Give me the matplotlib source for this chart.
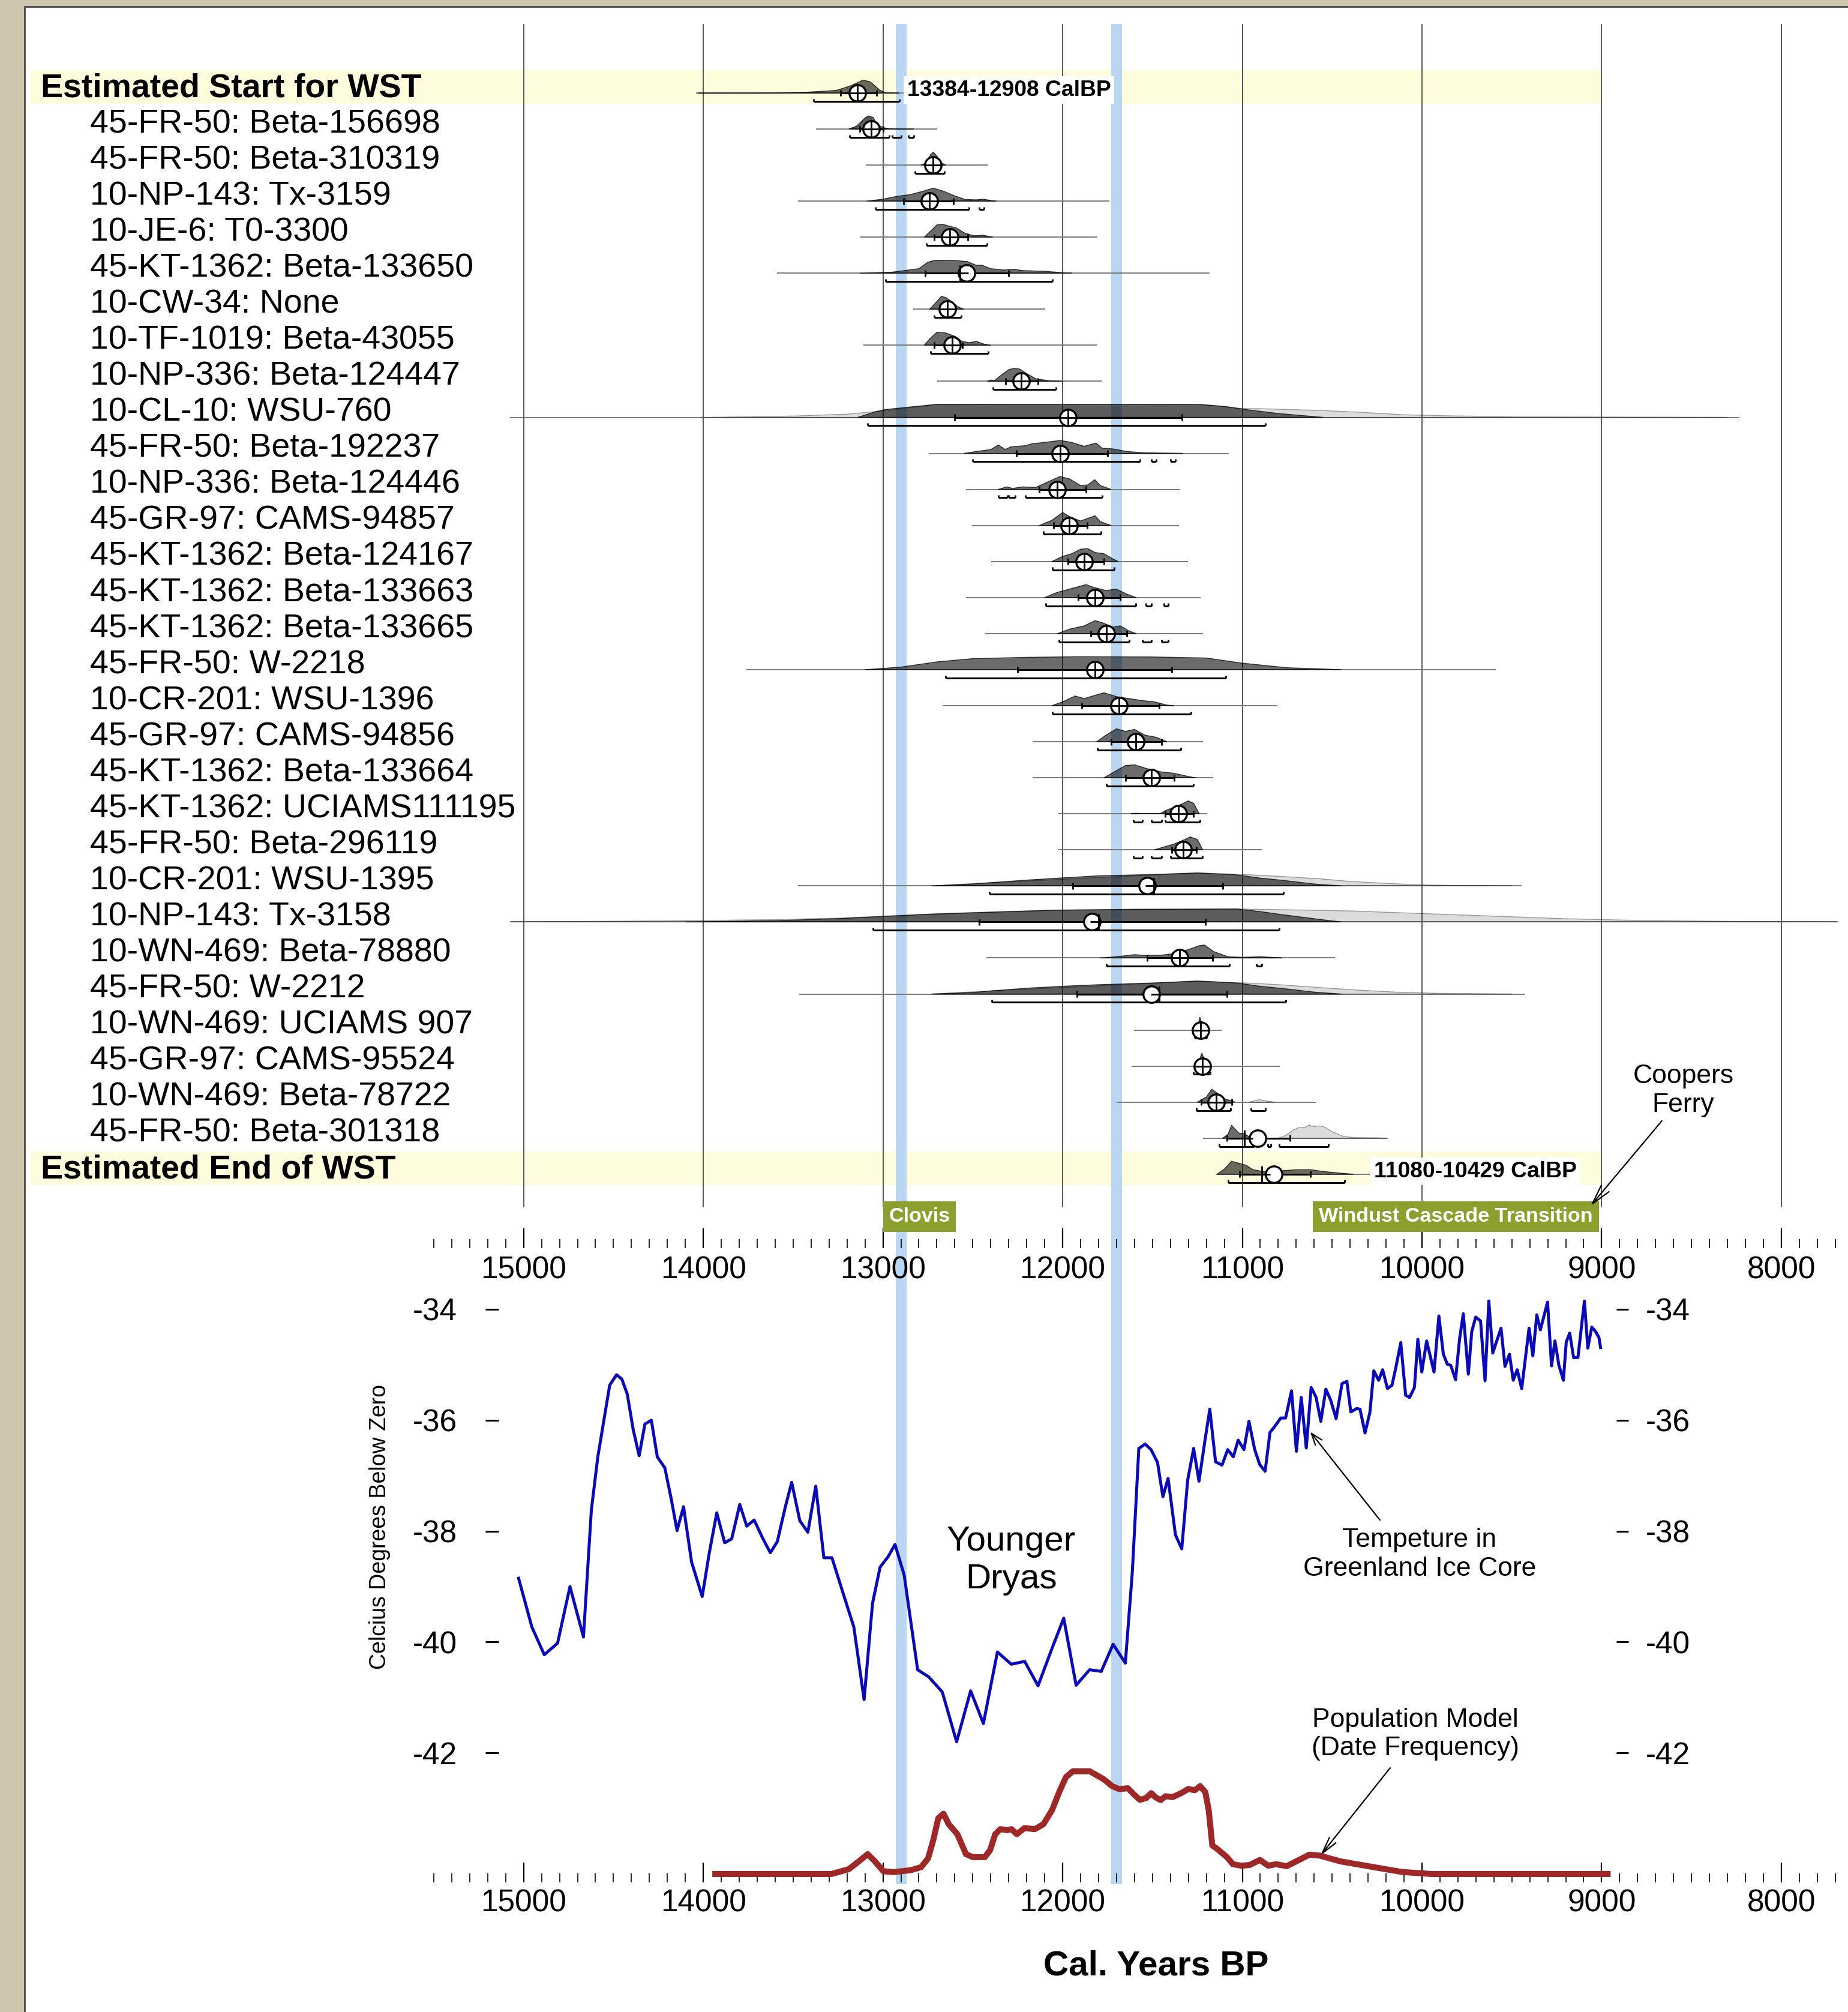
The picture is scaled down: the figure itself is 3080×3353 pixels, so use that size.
import matplotlib
matplotlib.use("Agg")
import matplotlib.pyplot as plt
from matplotlib.patches import Rectangle

plt.rcParams["font.family"] = ["Liberation Sans", "DejaVu Sans"]
plt.rcParams["axes.unicode_minus"] = False

# ---------------- data: radiocarbon dates (Cal BP) ----------------
labels = [
    "Estimated Start for WST",
    "45-FR-50: Beta-156698", "45-FR-50: Beta-310319", "10-NP-143: Tx-3159",
    "10-JE-6: T0-3300", "45-KT-1362: Beta-133650", "10-CW-34: None",
    "10-TF-1019: Beta-43055", "10-NP-336: Beta-124447", "10-CL-10: WSU-760",
    "45-FR-50: Beta-192237", "10-NP-336: Beta-124446", "45-GR-97: CAMS-94857",
    "45-KT-1362: Beta-124167", "45-KT-1362: Beta-133663", "45-KT-1362: Beta-133665",
    "45-FR-50: W-2218", "10-CR-201: WSU-1396", "45-GR-97: CAMS-94856",
    "45-KT-1362: Beta-133664", "45-KT-1362: UCIAMS111195", "45-FR-50: Beta-296119",
    "10-CR-201: WSU-1395", "10-NP-143: Tx-3158", "10-WN-469: Beta-78880",
    "45-FR-50: W-2212", "10-WN-469: UCIAMS 907", "45-GR-97: CAMS-95524",
    "10-WN-469: Beta-78722", "45-FR-50: Beta-301318",
    "Estimated End of WST",
]
bold_rows = [0, 30]

line_from = [14036, 13371, 13093, 13471, 13121, 13586, 12829, 13107, 12695, 15071,
             12743, 12536, 12500, 12393, 12536, 12429, 13757, 12664, 12164, 12164,
             12021, 12021, 13471, 15071, 12421, 13464, 11600, 11614, 11696, 11214, 11143]
line_to = [12890, 12700, 12421, 11743, 11814, 11186, 12100, 11814, 11788, 8236,
           11079, 11350, 11357, 11307, 11236, 11221, 9593, 10807, 11221, 11164,
           11200, 10893, 9450, 7686, 10486, 9429, 11114, 10793, 10593, 10193, 10293]

mean_year = [13141, 13066, 12721, 12743, 12629, 12536, 12643, 12614, 12231, 11971,
             12014, 12029, 11965, 11879, 11821, 11757, 11821, 11686, 11593, 11507,
             11357, 11329, 11529, 11836, 11350, 11507, 11232, 11221, 11145, 10914, 10824]
median_year = [13141, 13066, 12721, 12743, 12629, 12571, 12643, 12614, 12231, 11971,
               12014, 12029, 11965, 11879, 11821, 11757, 11821, 11686, 11593, 11507,
               11357, 11329, 11493, 11800, 11350, 11464, 11232, 11221, 11145, 10990, 10893]

range68 = [(13236, 13036), (13129, 13000), (12750, 12695), (12886, 12607), (12714, 12529),
           (12764, 12300), None, (12714, 12557), (12317, 12136), (12600, 11336),
           (12257, 11750), (12129, 11871), (12050, 11864), (11971, 11771), (11914, 11679),
           (11843, 11643), (12250, 11393), (11893, 11464), (11729, 11450), (11650, 11379),
           (11429, 11271), (11393, 11257), (11943, 11107), (12464, 11207), (11529, 11164),
           (11921, 11086), None, None, (11229, 11057), (11086, 10736), (11014, 10621)]

range95 = [
    [(13386, 12908)],
    [(13186, 12964), (12950, 12900), (12857, 12829)],
    [(12821, 12657)],
    [(13043, 12521), (12464, 12436)],
    [(12757, 12421)],
    [(12986, 12057)],
    [(12714, 12564)],
    [(12736, 12414)],
    [(12388, 12036)],
    [(13086, 10871)],
    [(12500, 11571), (11507, 11479), (11400, 11371)],
    [(12357, 12307), (12300, 12264), (12207, 11779)],
    [(12107, 11786)],
    [(12057, 11714)],
    [(12093, 11593), (11536, 11507), (11436, 11414)],
    [(12021, 11629), (11557, 11507), (11450, 11414)],
    [(12650, 11093)],
    [(12057, 11286)],
    [(11807, 11343)],
    [(11757, 11271)],
    [(11607, 11557), (11507, 11450), (11429, 11236)],
    [(11607, 11557), (11507, 11450), (11400, 11221)],
    [(12407, 10771)],
    [(13057, 10793)],
    [(11757, 11071), (10921, 10893)],
    [(12393, 10757)],
    [(11264, 11200)],
    [(11271, 11179)],
    [(11257, 11064), (10950, 10871)],
    [(11129, 10936), (10857, 10843), (10793, 10521)],
    [(11080, 10429)],
]

# posterior density outlines (year, relative height)
posterior = [
    [(14030, 0), (13600, 0.02), (13420, 0.06), (13260, 0.2), (13180, 0.55), (13110, 1.0), (13070, 0.85), (13020, 0.25), (12990, 0.03), (12910, 0)],
    [(13190, 0), (13140, 0.25), (13100, 0.85), (13080, 1.0), (13055, 0.9), (13030, 0.3), (12990, 0.08), (12960, 0.03), (12900, 0.02), (12830, 0)],
    [(12790, 0), (12760, 0.15), (12735, 0.8), (12720, 1.0), (12700, 0.7), (12680, 0.2), (12650, 0)],
    [(13090, 0), (13000, 0.15), (12930, 0.35), (12850, 0.5), (12780, 0.75), (12720, 1.0), (12660, 0.75), (12600, 0.4), (12540, 0.12), (12480, 0.1), (12440, 0.15), (12400, 0.05), (12370, 0)],
    [(12770, 0), (12740, 0.4), (12700, 0.95), (12670, 1.0), (12630, 0.85), (12590, 0.7), (12550, 0.35), (12500, 0.12), (12470, 0.12), (12445, 0.16), (12410, 0.05), (12390, 0)],
    [(13130, 0), (12950, 0.08), (12800, 0.35), (12750, 0.85), (12710, 1.0), (12600, 0.98), (12530, 0.9), (12480, 0.6), (12450, 0.62), (12400, 0.35), (12330, 0.25), (12270, 0.3), (12220, 0.2), (12100, 0.15), (12000, 0.04), (11950, 0)],
    [(12740, 0), (12700, 0.6), (12675, 1.0), (12650, 0.9), (12620, 0.6), (12585, 0.2), (12550, 0)],
    [(12770, 0), (12740, 0.5), (12700, 1.0), (12650, 0.95), (12600, 0.7), (12560, 0.3), (12520, 0.2), (12480, 0.3), (12440, 0.1), (12400, 0)],
    [(12420, 0), (12400, 0.1), (12380, 0.05), (12340, 0.5), (12300, 0.9), (12270, 1.0), (12240, 0.95), (12200, 0.6), (12150, 0.2), (12080, 0.05), (12000, 0)],
    [(13140, 0), (13050, 0.4), (12990, 0.6), (12850, 0.8), (12700, 1.0), (11230, 0.98), (11100, 0.85), (10980, 0.6), (10800, 0.3), (10550, 0)],
    [(12550, 0), (12480, 0.15), (12400, 0.3), (12357, 0.65), (12320, 0.3), (12290, 0.5), (12250, 0.55), (12207, 0.6), (12170, 0.75), (12100, 0.85), (12014, 1.0), (11950, 0.85), (11880, 0.55), (11814, 0.8), (11780, 0.4), (11720, 0.35), (11643, 0.15), (11550, 0.05), (11330, 0)],
    [(12360, 0), (12310, 0.2), (12280, 0.08), (12220, 0.2), (12150, 0.15), (12080, 0.6), (12014, 1.0), (11960, 0.8), (11900, 0.3), (11860, 0.35), (11821, 0.75), (11790, 0.3), (11730, 0)],
    [(12130, 0), (12060, 0.4), (12000, 1.0), (11950, 0.6), (11900, 0.35), (11820, 0.75), (11790, 0.3), (11730, 0)],
    [(12060, 0), (12000, 0.4), (11950, 0.6), (11900, 0.95), (11860, 1.0), (11820, 0.7), (11770, 0.6), (11720, 0.2), (11690, 0)],
    [(12100, 0), (12030, 0.4), (11950, 0.7), (11870, 1.0), (11830, 0.8), (11760, 0.55), (11700, 0.65), (11640, 0.25), (11590, 0)],
    [(12030, 0), (11960, 0.35), (11880, 0.6), (11820, 1.0), (11780, 0.85), (11720, 0.5), (11680, 0.6), (11630, 0.2), (11590, 0)],
    [(13100, 0), (12900, 0.2), (12700, 0.6), (12500, 0.85), (12200, 0.95), (11900, 1.0), (11500, 0.98), (11200, 0.9), (11000, 0.5), (10750, 0.15), (10450, 0)],
    [(12060, 0), (12000, 0.3), (11930, 0.75), (11880, 0.55), (11820, 0.8), (11770, 1.0), (11700, 0.7), (11630, 0.55), (11560, 0.4), (11490, 0.3), (11420, 0.05), (11380, 0)],
    [(11810, 0), (11760, 0.5), (11700, 1.0), (11650, 0.8), (11600, 0.95), (11540, 0.5), (11480, 0.35), (11420, 0)],
    [(11770, 0), (11720, 0.4), (11650, 0.95), (11600, 1.0), (11530, 0.7), (11450, 0.45), (11380, 0.35), (11300, 0.1), (11260, 0)],
    [(11620, 0), (11590, 0.05), (11560, 0), (11460, 0), (11420, 0.3), (11380, 0.5), (11330, 0.8), (11300, 1.0), (11270, 0.8), (11240, 0)],
    [(11490, 0), (11430, 0.25), (11380, 0.45), (11320, 0.8), (11290, 1.0), (11250, 0.8), (11220, 0)],
    [(12730, 0), (12500, 0.15), (12390, 0.26), (12200, 0.45), (12000, 0.62), (11800, 0.78), (11500, 0.88), (11250, 1.0), (11030, 0.85), (10900, 0.6), (10770, 0.42), (10600, 0.15), (10450, 0)],
    [(14100, 0), (13600, 0.1), (13240, 0.26), (12730, 0.6), (12400, 0.75), (12050, 0.9), (11600, 0.97), (11030, 1.0), (10900, 0.8), (10770, 0.55), (10570, 0.2), (10450, 0)],
    [(11790, 0), (11700, 0.1), (11600, 0.26), (11540, 0.2), (11450, 0.22), (11400, 0.3), (11300, 0.65), (11240, 0.95), (11210, 1.0), (11160, 0.5), (11080, 0.1), (11000, 0.05), (10900, 0.1), (10800, 0.02), (10780, 0)],
    [(12730, 0), (12500, 0.12), (12390, 0.25), (12200, 0.45), (12000, 0.6), (11800, 0.72), (11500, 0.85), (11250, 1.0), (11030, 0.85), (10900, 0.6), (10770, 0.42), (10600, 0.15), (10450, 0)],
    [(11260, 0), (11245, 0.5), (11236, 1.0), (11225, 0.5), (11210, 0)],
    [(11255, 0), (11235, 0.6), (11225, 1.0), (11212, 0.5), (11200, 0)],
    [(11250, 0), (11200, 0.4), (11170, 1.0), (11140, 0.7), (11110, 0.3), (11060, 0.1), (11040, 0)],
    [(11110, 0), (11080, 0.3), (11060, 1.0), (11040, 0.7), (11020, 0.4), (10990, 0.35), (10960, 0.1), (10900, 0.05), (10870, 0)],
    [(11140, 0), (11100, 0.4), (11060, 1.0), (11020, 0.85), (10980, 0.7), (10940, 0.35), (10880, 0.2), (10800, 0.25), (10700, 0.35), (10620, 0.35), (10540, 0.2), (10450, 0.08), (10380, 0)],
]

# unmodelled likelihoods (light grey), only where visible
likelihood = {
    1: [(13170, 0), (13120, 0.6), (13090, 0.95), (13070, 0.9), (13040, 0.2), (13000, 0)],
    9: [(14014, 0), (13500, 0.1), (13200, 0.25), (13000, 0.5), (12700, 1.0), (11230, 1.0), (11000, 0.68), (10900, 0.67), (10600, 0.55), (10350, 0.4), (10100, 0.2), (9850, 0.12), (9450, 0.04), (8300, 0)],
    22: [(12730, 0), (12390, 0.26), (11250, 1.0), (11030, 0.9), (10900, 0.82), (10770, 0.72), (10570, 0.55), (10400, 0.35), (10200, 0.2), (10050, 0.1), (9800, 0.03), (9500, 0)],
    23: [(15070, 0), (14600, 0.05), (14100, 0.1), (13600, 0.18), (13240, 0.3), (12730, 0.62), (12400, 0.77), (12050, 0.92), (11600, 0.98), (11030, 1.0), (10800, 0.95), (10400, 0.85), (10000, 0.65), (9600, 0.45), (9200, 0.25), (8800, 0.12), (8300, 0.05), (7690, 0)],
    25: [(12730, 0), (12390, 0.25), (11250, 1.0), (11030, 0.88), (10900, 0.8), (10770, 0.7), (10570, 0.5), (10350, 0.3), (10150, 0.15), (9900, 0.05), (9500, 0)],
    28: [(10960, 0), (10930, 0.12), (10907, 0.2), (10870, 0.1), (10820, 0)],
    29: [(10800, 0), (10760, 0.2), (10720, 0.6), (10690, 0.8), (10650, 0.85), (10630, 1.0), (10600, 0.9), (10570, 0.95), (10540, 0.85), (10500, 0.5), (10440, 0.15), (10380, 0.05), (10250, 0.03), (10200, 0)],
}

boundary_text = {0: "13384-12908 CalBP", 30: "11080-10429 CalBP"}
boundary_text_x = {0: 12865, 30: 10267}

# ---------------- data: Greenland ice core temperature ----------------
temp_years = [15028, 14954, 14885, 14811, 14742, 14667, 14623, 14587, 14521, 14483,
              14453, 14423, 14390, 14357, 14325, 14289, 14256, 14214, 14179, 14146,
              14110, 14065, 14006, 13967, 13925, 13881, 13842, 13797, 13758, 13717,
              13669, 13627, 13588, 13544, 13508, 13463, 13418, 13374, 13329, 13284,
              13216, 13162, 13105, 13058, 13016, 12971, 12933, 12882, 12807, 12745,
              12670, 12590, 12512, 12441, 12363, 12286, 12211, 12137, 12062, 11994,
              11925, 11850, 11785, 11719, 11651, 11612, 11576, 11541, 11508, 11472,
              11442, 11413, 11372, 11337, 11304, 11271, 11241, 11209, 11181, 11149,
              11113, 11081, 11050, 11023, 10991, 10963, 10931, 10903, 10873, 10846,
              10819, 10786, 10759, 10726, 10699, 10672, 10644, 10617, 10590, 10563,
              10535, 10508, 10478, 10445, 10418, 10396, 10364, 10345, 10317, 10290,
              10268, 10241, 10219, 10192, 10167, 10146, 10118, 10091, 10069, 10042,
              10023, 10001, 9974, 9933, 9906, 9881, 9859, 9840, 9813, 9791,
              9770, 9742, 9723, 9701, 9674, 9649, 9628, 9606, 9587, 9560,
              9538, 9513, 9492, 9470, 9445, 9404, 9383, 9361, 9341, 9301,
              9279, 9260, 9238, 9213, 9197, 9178, 9156, 9132, 9096, 9077,
              9055, 9034, 9015, 9006]
temp_c = [-38.85, -39.73, -40.23, -40.02, -39.00, -39.91, -37.62, -36.66, -35.37, -35.18,
          -35.26, -35.53, -36.17, -36.64, -36.07, -36.00, -36.66, -36.86, -37.41, -37.99,
          -37.56, -38.56, -39.18, -38.40, -37.67, -38.21, -38.14, -37.52, -37.91, -37.80,
          -38.13, -38.39, -38.19, -37.57, -37.12, -37.81, -38.02, -37.19, -38.48, -38.48,
          -39.18, -39.73, -41.04, -39.30, -38.65, -38.46, -38.24, -38.79, -40.50, -40.63,
          -40.90, -41.80, -40.88, -41.47, -40.18, -40.40, -40.35, -40.79, -40.14, -39.57,
          -40.78, -40.50, -40.53, -40.04, -40.38, -38.73, -36.51, -36.43, -36.53, -36.76,
          -37.38, -37.05, -38.07, -38.32, -37.08, -36.51, -37.10, -36.39, -35.80, -36.75,
          -36.81, -36.53, -36.66, -36.36, -36.53, -36.02, -36.53, -36.80, -36.92, -36.22,
          -36.11, -35.96, -35.96, -35.47, -36.56, -35.59, -36.50, -35.41, -35.58, -36.02,
          -35.44, -35.64, -35.97, -35.34, -35.30, -35.85, -35.79, -35.80, -36.23, -35.86,
          -35.11, -35.28, -35.09, -35.43, -35.37, -35.06, -34.60, -35.55, -35.59, -35.41,
          -34.54, -35.13, -34.57, -35.13, -34.12, -34.81, -34.99, -35.01, -35.27, -34.54,
          -34.08, -35.17, -34.40, -34.14, -34.21, -35.29, -33.85, -34.79, -34.60, -34.34,
          -35.03, -34.81, -35.28, -35.09, -35.43, -34.34, -34.84, -34.10, -34.37, -33.87,
          -35.02, -34.57, -35.01, -35.28, -34.59, -34.43, -34.87, -34.87, -33.85, -34.70,
          -34.32, -34.40, -34.51, -34.69]

# ---------------- data: population model (summed date frequency) ----------------
pop_years = [13950, 13573, 13286, 13190, 13133, 13085, 13046, 12998, 12941, 12845,
             12788, 12749, 12720, 12692, 12663, 12634, 12586, 12538, 12500, 12433,
             12404, 12375, 12347, 12308, 12285, 12255, 12213, 12155, 12107, 12059,
             12017, 11982, 11944, 11848, 11772, 11724, 11685, 11637, 11599, 11570,
             11536, 11507, 11484, 11455, 11427, 11388, 11340, 11302, 11264, 11235,
             11206, 11187, 11167, 11144, 11086, 11052, 11006, 10960, 10902, 10856,
             10811, 10753, 10684, 10627, 10569, 10454, 10270, 10109, 9948, 8950]
pop_freq = [0.0, 0.0, 0.0, 0.047, 0.125, 0.193, 0.125, 0.027, 0.018, 0.037,
            0.066, 0.152, 0.33, 0.544, 0.587, 0.485, 0.388, 0.193, 0.164, 0.164,
            0.232, 0.388, 0.437, 0.427, 0.437, 0.388, 0.447, 0.437, 0.485, 0.622,
            0.807, 0.943, 1.0, 1.0, 0.924, 0.856, 0.827, 0.836, 0.768, 0.723,
            0.739, 0.788, 0.749, 0.720, 0.758, 0.749, 0.788, 0.827, 0.817, 0.856,
            0.798, 0.622, 0.278, 0.25, 0.165, 0.095, 0.081, 0.087, 0.137, 0.081,
            0.095, 0.076, 0.137, 0.188, 0.179, 0.123, 0.067, 0.019, 0.0, 0.0]

event_bands = [(12930, 12870), (11730, 11670)]   # Clovis onset, end of Younger Dryas
temp_ticks = [-34, -36, -38, -40, -42]

# ---------------- layout ----------------
W, H, DPI = 3080, 3353, 200
YEAR_L, YEAR_R = 17914.3, 7628.9
BAND = "#b9d7f2"
OLIVE = "#8ba02e"
YELLOW = "#fdfcdc"


def ffrac(px_top):
    return 1 - px_top / H


major_ticks = list(range(15000, 7999, -1000))
minor_ticks = [y for y in range(15500, 7699, -100) if y % 1000]

fig = plt.figure(figsize=(W / DPI, H / DPI), dpi=DPI, facecolor="#cdc6ad")
fig.add_artist(Rectangle((41 / W, -0.01), 1.0, ffrac(11) + 0.01, transform=fig.transFigure,
                         facecolor="white", edgecolor="#4a4a4a", lw=1.0, zorder=-10))

# background axes carrying the two blue event bands through both panels
axbg = fig.add_axes([0, ffrac(3140), 1, (3140 - 68) / H])
axbg.set_xlim(YEAR_L, YEAR_R)
axbg.set_ylim(0, 1)
axbg.axis("off")
for lo, hi in event_bands:
    axbg.axvspan(lo, hi, color=BAND, lw=0)

# ---------------- top panel: date distributions ----------------
ax = fig.add_axes([0, ffrac(2080), 1, (2080 - 40) / H])
ax.set_facecolor("none")
ax.set_xlim(YEAR_L, YEAR_R)
ax.set_ylim(32.05, -1.914)
for s in ax.spines.values():
    s.set_visible(False)

for i in bold_rows:
    ax.fill_betweenx([i - 0.63, i + 0.3], 17744, 9000, color=YELLOW, lw=0, zorder=0.5)
for lo, hi in event_bands:
    ax.axvspan(lo, hi, color=BAND, lw=0, zorder=0.8)
ax.vlines(major_ticks, -1.914, 30.91, color="#3a3a3a", lw=0.6, zorder=1)

DH = 0.36
for i, lab in enumerate(labels):
    y = i
    if i in bold_rows:
        ax.text(0.0221, y - 0.13, lab, transform=ax.get_yaxis_transform(), fontsize=20,
                fontweight="bold", va="center", ha="left")
    else:
        ax.text(0.0487, y - 0.13, lab, transform=ax.get_yaxis_transform(), fontsize=20,
                va="center", ha="left")

    ax.plot([line_from[i], line_to[i]], [y, y], color="#7a7a7a", lw=0.7, zorder=2)

    if i in likelihood:
        xs = [p[0] for p in likelihood[i]]
        hs = [y - DH * p[1] for p in likelihood[i]]
        ax.fill(xs + [xs[-1], xs[0]], hs + [y, y], facecolor=(0, 0, 0, 0.14),
                edgecolor=(0, 0, 0, 0.35), lw=0.5, zorder=3)
    xs = [p[0] for p in posterior[i]]
    hs = [y - DH * p[1] for p in posterior[i]]
    ax.fill(xs + [xs[-1], xs[0]], hs + [y, y], facecolor=(0, 0, 0, 0.58),
            edgecolor=(0, 0, 0, 0.75), lw=0.5, zorder=4)

    if range68[i] is not None:
        lo, hi = range68[i]
        ax.plot([lo, hi], [y, y], color="black", lw=1.1, zorder=5)
        ax.vlines([lo, hi], y - 0.09, y + 0.09, color="black", lw=1.0, zorder=5)
    for lo, hi in range95[i]:
        ax.plot([lo, hi], [y + 0.23, y + 0.23], color="black", lw=1.1, zorder=5,
                solid_capstyle="butt")
        ax.vlines([lo, hi], y + 0.16, y + 0.23, color="black", lw=1.0, zorder=5)

    ax.plot(mean_year[i], y, "o", ms=9.9, mfc="white", mec="black", mew=1.2, zorder=6)
    ax.plot(median_year[i], y, marker="_", ms=9.9, mew=1.0, color="black", zorder=7)
    ax.vlines(median_year[i], y - 0.225, y + 0.23, color="black", lw=1.0, zorder=7)

    if i in boundary_text:
        ax.text(boundary_text_x[i], y - 0.08, boundary_text[i], fontsize=13.4, fontweight="bold",
                va="center", ha="left", zorder=9,
                bbox=dict(boxstyle="square,pad=0.15", fc="white", ec="none"))

# period labels
for (x_old, x_young), txt in [((13000, 12593), "Clovis"), ((10608, 9015), "Windust Cascade Transition")]:
    ax.add_patch(Rectangle((x_young, 30.75), x_old - x_young, 0.85, facecolor=OLIVE,
                           edgecolor="none", zorder=8))
    ax.text((x_old + x_young) / 2, 31.18, txt, color="white", fontsize=12.3, fontweight="bold",
            ha="center", va="center", zorder=9)

ax.text(8545, 27.68, "Coopers\nFerry", fontsize=16, ha="center", va="center")
ax.annotate("", xy=(9062, 30.88), xytext=(8665, 28.52),
            arrowprops=dict(arrowstyle="->,head_length=1.2,head_width=0.3", color="black",
                            lw=0.8, shrinkA=0, shrinkB=0), zorder=9)

ax.set_xticks(major_ticks)
ax.set_xticks(minor_ticks, minor=True)
ax.set_xticklabels([str(v) for v in major_ticks])
ax.tick_params(axis="x", which="major", direction="in", length=11.9, width=0.8,
               labelsize=18.5, pad=4.5)
ax.tick_params(axis="x", which="minor", direction="in", length=5.4, width=0.6)
ax.tick_params(axis="y", left=False, labelleft=False)

# ---------------- bottom panel: temperature and population ----------------
axt = fig.add_axes([0, ffrac(3137), 1, (3137 - 2150) / H])
axt.set_facecolor("none")
axt.set_xlim(YEAR_L, YEAR_R)
axt.set_ylim(-44.335, -33.654)
axt.plot(temp_years, temp_c, color="#0b0bb5", lw=1.8, zorder=4)

axp = axt.twinx()
axp.set_ylim(-0.082, 5.69)
axp.plot(pop_years, pop_freq, color="#9e2828", lw=3.6, solid_joinstyle="round",
         solid_capstyle="butt", zorder=4)
axp.set_yticks([])

axr = axt.twinx()
axr.set_ylim(axt.get_ylim())

for a in (axt, axp, axr):
    for s in a.spines.values():
        s.set_color("none")

axt.spines["left"].set_position(("data", 15139))
axt.set_yticks(temp_ticks)
axt.set_yticklabels([str(v) for v in temp_ticks])
axt.tick_params(axis="y", direction="out", length=7.9, width=1.1, labelsize=18.5, pad=17)

axr.spines["right"].set_position(("data", 8918))
axr.set_yticks(temp_ticks)
axr.set_yticklabels([str(v) for v in temp_ticks])
axr.tick_params(axis="y", direction="out", length=7.2, width=1.1, labelsize=18.5, pad=10.4)

axt.set_xticks(major_ticks)
axt.set_xticks(minor_ticks, minor=True)
axt.set_xticklabels([str(v) for v in major_ticks])
axt.tick_params(axis="x", which="major", direction="in", length=11.9, width=0.8,
                labelsize=18.5, pad=3.6)
axt.tick_params(axis="x", which="minor", direction="in", length=5.4, width=0.6)

axt.text(12286, -38.53, "Younger\nDryas", fontsize=21, ha="center", va="center")
axt.text(10014, -38.42, "Tempeture in\nGreenland Ice Core", fontsize=16, ha="center", va="center")
axt.annotate("", xy=(10622, -36.21), xytext=(10234, -37.80),
             arrowprops=dict(arrowstyle="->,head_length=0.7,head_width=0.25", color="black",
                             lw=0.8, shrinkA=0, shrinkB=0))
axt.text(10037, -41.66, "Population Model\n(Date Frequency)", fontsize=16, ha="center",
         va="center")
axt.annotate("", xy=(10565, -43.85), xytext=(10177, -42.27),
             arrowprops=dict(arrowstyle="->,head_length=1.0,head_width=0.25", color="black",
                             lw=0.8, shrinkA=0, shrinkB=0))

fig.text(633 / W, ffrac(2545), "Celcius Degrees Below Zero", rotation=90, fontsize=13.5,
         ha="center", va="center")
fig.text(1927 / W, ffrac(3277), "Cal. Years BP", fontsize=21, fontweight="bold",
         ha="center", va="center")

fig.savefig("out.png", dpi=DPI, facecolor=fig.get_facecolor())
